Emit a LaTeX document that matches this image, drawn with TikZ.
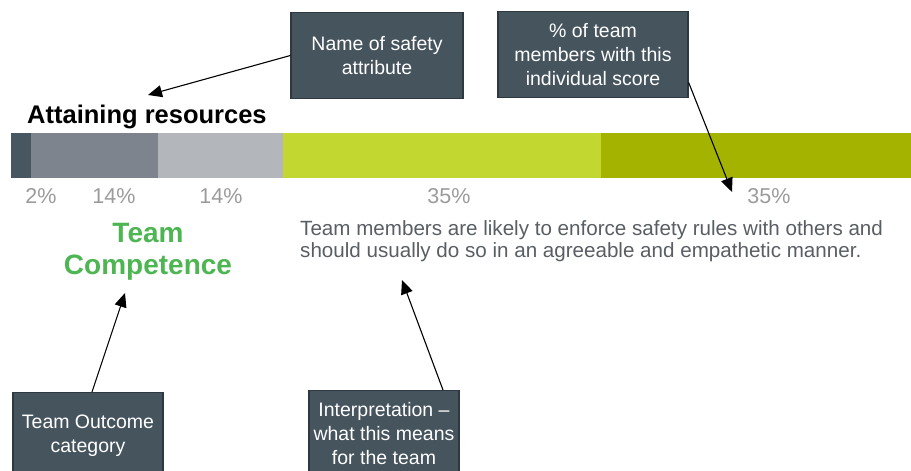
\documentclass[tikz,border=0pt]{standalone}
\usepackage{fontspec}
\setmainfont{Liberation Sans}
\usepackage{tikz}
\usetikzlibrary{arrows.meta}

\definecolor{segDark}{HTML}{475660}
\definecolor{segGrey}{HTML}{7E848D}
\definecolor{segLight}{HTML}{B3B7BB}
\definecolor{segLime}{HTML}{C2D831}
\definecolor{segOlive}{HTML}{A4B300}
\definecolor{pctGray}{HTML}{9B9B9B}
\definecolor{teamGreen}{HTML}{4DB653}
\definecolor{bodyGray}{HTML}{595E64}
\definecolor{boxFill}{HTML}{46545E}
\definecolor{boxLine}{HTML}{2E3840}

\tikzset{
  callout/.style={draw=boxLine, fill=boxFill, text=white, line width=1.3pt,
    align=center, minimum height=86pt, inner sep=2pt,
    font=\fontsize{19.5}{24}\selectfont},
  pointer/.style={line width=1.1pt, -{Triangle[length=14pt,width=12pt]}},
  pctlabel/.style={text=pctGray, font=\fontsize{21.5}{24}\selectfont, inner sep=0pt}
}

\begin{document}
\begin{tikzpicture}[x=1pt, y=-1pt]
        \useasboundingbox (0,0) rectangle (911,471);
        \clip (0,0) rectangle (911,471);

        % title of the attribute
        \node[anchor=base west, inner sep=0pt, font=\fontsize{25.5}{30}\selectfont\bfseries] (title) at (27,123) {Attaining resources};

        % stacked score bar
        \foreach \xa/\xb/\col in {11/31/segDark, 31/158/segGrey, 158/283/segLight, 283/601/segLime, 601/911/segOlive}
            \fill[\col] (\xa,133) rectangle (\xb,178);

        % percentages under the bar
        \foreach \x/\p/\name in {41/2/pA, 114/14/pB, 221/14/pC, 449/35/pD, 769/35/pE}
            \node[pctlabel] (\name) at (\x,196) {\p\%};

        % outcome category
        \node[text=teamGreen, align=center, font=\fontsize{28}{32}\selectfont\bfseries] (team) at (148,252) {Team\\Competence};

        % interpretation text
        \node[anchor=west, inner sep=0pt, align=left, text=bodyGray, font=\fontsize{20.6}{22}\selectfont] (interpText) at (300,241)
            {Team members are likely to enforce safety rules with others and\\should usually do so in an agreeable and empathetic manner.};

        % callout boxes
        \node[callout, minimum width=172pt] (nameBox) at (377,55.5) {Name of safety\\attribute};
        \node[callout, minimum width=190pt] (pctBox) at (593,54.5) {\% of team\\members with this\\individual score};
        \node[callout, minimum width=150pt, anchor=north] (outcomeBox) at (88,392) {Team Outcome\\category};
        \node[callout, minimum width=150pt, anchor=north] (interpBox) at (384,390) {Interpretation --\\what this means\\for the team};

        % arrow tips
        \coordinate (titleTip) at (148,95);
        \coordinate (pctTip) at (732,192);
        \coordinate (teamTip) at (125,293);
        \coordinate (interpTip) at (402,280);

        \draw[pointer] (nameBox.west) -- (titleTip);
        \draw[pointer] ([yshift=-28pt]pctBox.east) -- (pctTip);
        \draw[pointer] ([xshift=4pt]outcomeBox.north) -- (teamTip);
        \draw[pointer] ([xshift=59pt]interpBox.north) -- (interpTip);
\end{tikzpicture}
\end{document}
